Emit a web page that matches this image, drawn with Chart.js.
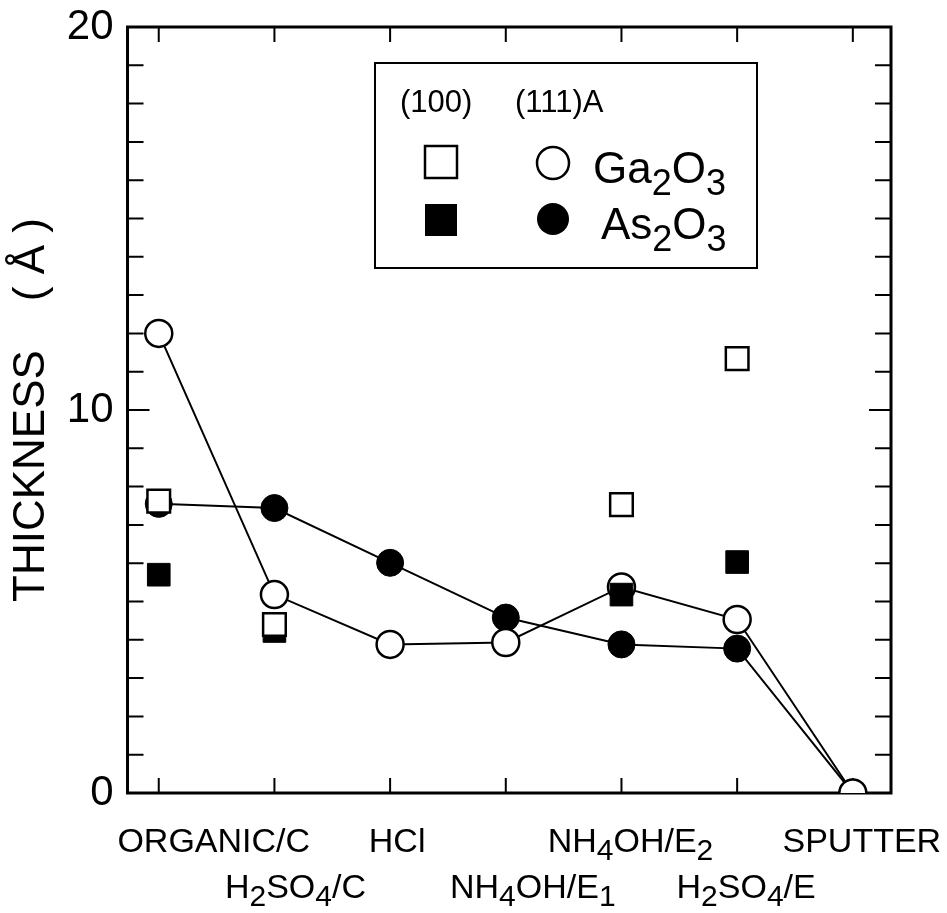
<!DOCTYPE html>
<html>
<head>
<meta charset="utf-8">
<title>Oxide thickness</title>
<script src="https://cdn.jsdelivr.net/npm/chart.js@4.4.0/dist/chart.umd.min.js"></script>
<style>
  html, body { margin: 0; padding: 0; background: #fff; }
  #wrap { width: 947px; height: 913px; }
</style>
</head>
<body>
<div id="wrap"><canvas id="myChart"></canvas></div>
<script>
// surface treatments, left to right ('_x' means x is a subscript)
var categorias = ['ORGANIC/C', 'H_2SO_4/C', 'HCl', 'NH_4OH/E_1', 'NH_4OH/E_2', 'H_2SO_4/E', 'SPUTTER'];
// (111)A, joined by lines
var ga111 = [12.0, 5.18, 3.88, 3.93, 5.38, 4.53, 0];
var as111 = [7.55, 7.44, 6.01, 4.58, 3.88, 3.77, 0];
// (100), single points (null = not measured)
var ga100 = [7.62, 4.4, null, null, 7.53, 11.34, null];
var as100 = [5.7, 4.23, null, null, 5.18, 6.03, null];
var yTicks = [0, 10, 20];

var FUENTE = "'Liberation Sans', Arial, Helvetica, sans-serif";
Chart.defaults.font.family = FUENTE;
Chart.defaults.color = '#000';

function puntos(valores) {
    var arr = [];
    for (var i = 0; i < valores.length; i++) {
        if (valores[i] !== null) arr.push({x: i, y: valores[i]});
    }
    return arr;
}

// split 'H_2SO_4/C' into normal / subscript pieces
function partes(txt) {
    var out = [];
    for (var i = 0; i < txt.length; i++) {
        if (txt[i] === '_') { out.push({t: txt[i + 1], sub: true}); i++; }
        else out.push({t: txt[i], sub: false});
    }
    return out;
}

function textoSub(ctx, txt, x, y, size, subSize, drop, centrado) {
    var p = partes(txt);
    var ancho = 0;
    p.forEach(function(s) {
        ctx.font = (s.sub ? subSize : size) + 'px ' + FUENTE;
        s.w = ctx.measureText(s.t).width;
        ancho += s.w;
    });
    var cx = centrado ? x - ancho / 2 : x;
    ctx.textAlign = 'left';
    ctx.textBaseline = 'alphabetic';
    p.forEach(function(s) {
        ctx.font = (s.sub ? subSize : size) + 'px ' + FUENTE;
        ctx.fillText(s.t, cx, s.sub ? y + drop : y);
        cx += s.w;
    });
}

// labels sit a bit right of their tick in the original
var desplazar = [55, 21, 7, 27, 9, 9, 9];

var marco = {
    id: 'marco',
    beforeDatasetsDraw: function(chart) {
        var ctx = chart.ctx, a = chart.chartArea;
        var xs = chart.scales.x, ys = chart.scales.y;
        ctx.save();
        ctx.strokeStyle = '#000';
        ctx.lineWidth = 3;
        ctx.strokeRect(a.left, a.top, a.right - a.left, a.bottom - a.top);
        ctx.lineWidth = 2;
        ctx.beginPath();
        for (var v = 1; v < 20; v++) {
            var py = ys.getPixelForValue(v);
            var len = (v % 10 === 0) ? 22 : 16;
            ctx.moveTo(a.left, py); ctx.lineTo(a.left + len, py);
            ctx.moveTo(a.right, py); ctx.lineTo(a.right - len, py);
        }
        for (var i = 0; i < categorias.length; i++) {
            var px = xs.getPixelForValue(i);
            ctx.moveTo(px, a.bottom); ctx.lineTo(px, a.bottom - 15);
            ctx.moveTo(px, a.top); ctx.lineTo(px, a.top + 15);
        }
        ctx.stroke();
        ctx.restore();
    },
    afterDraw: function(chart) {
        var ctx = chart.ctx, a = chart.chartArea;
        var xs = chart.scales.x;
        ctx.save();
        ctx.fillStyle = '#000';
        // staggered category labels
        for (var i = 0; i < categorias.length; i++) {
            var px = xs.getPixelForValue(i) + desplazar[i];
            var py = (i % 2 === 0) ? a.bottom + 59 : a.bottom + 105;
            textoSub(ctx, categorias[i], px, py, 34, 30, 8, true);
        }

        // legend box
        ctx.strokeStyle = '#000';
        ctx.lineWidth = 2;
        ctx.strokeRect(375, 63, 382, 205);
        ctx.font = '31px ' + FUENTE;
        ctx.textAlign = 'left';
        ctx.fillText('(100)', 400, 112);
        ctx.fillText('(111)A', 515, 112);

        ctx.lineWidth = 2.5;
        ctx.fillStyle = '#fff';
        ctx.fillRect(425, 146, 32, 32);
        ctx.strokeRect(425, 146, 32, 32);
        ctx.beginPath();
        ctx.arc(553, 163, 16, 0, Math.PI * 2);
        ctx.fill();
        ctx.stroke();

        ctx.fillStyle = '#000';
        ctx.fillRect(425, 204, 32, 32);
        ctx.beginPath();
        ctx.arc(553, 219, 16, 0, Math.PI * 2);
        ctx.fill();

        textoSub(ctx, 'Ga_2O_3', 593, 183, 44, 36, 12, false);
        textoSub(ctx, 'As_2O_3', 601, 239, 44, 36, 12, false);
        ctx.restore();
    }
};

var ctx = document.getElementById('myChart').getContext('2d');
var chart = new Chart(ctx, {
    type: 'line',
    data: {
        datasets: [{
            label: '(100) Ga2O3',
            data: puntos(ga100),
            showLine: false,
            pointStyle: 'rect',
            pointRadius: 16,
            pointBackgroundColor: '#fff',
            pointBorderColor: '#000',
            pointBorderWidth: 2.5,
            order: 0
        }, {
            label: '(100) As2O3',
            data: puntos(as100),
            showLine: false,
            pointStyle: 'rect',
            pointRadius: 16,
            pointBackgroundColor: '#000',
            pointBorderColor: '#000',
            pointBorderWidth: 1,
            order: 1
        }, {
            label: '(111)A Ga2O3',
            data: puntos(ga111),
            borderColor: '#000',
            borderWidth: 2,
            pointRadius: 13.5,
            pointBackgroundColor: '#fff',
            pointBorderColor: '#000',
            pointBorderWidth: 2.5,
            order: 2
        }, {
            label: '(111)A As2O3',
            data: puntos(as111),
            borderColor: '#000',
            borderWidth: 2,
            pointRadius: 13.5,
            pointBackgroundColor: '#000',
            pointBorderColor: '#000',
            pointBorderWidth: 1,
            order: 3
        }]
    },
    options: {
        responsive: true,
        maintainAspectRatio: false,
        animation: false,
        layout: {
            padding: {left: 5, right: 56, top: 25, bottom: 120}
        },
        plugins: {
            legend: {display: false},
            tooltip: {enabled: false}
        },
        scales: {
            x: {
                type: 'linear',
                display: false,
                min: -0.27,
                max: 6.33
            },
            y: {
                min: 0,
                max: 20,
                afterBuildTicks: function(scale) {
                    scale.ticks = yTicks.map(function(v) { return {value: v}; });
                },
                grid: {display: false},
                border: {display: false},
                ticks: {
                    autoSkip: false,
                    padding: 6,
                    font: {size: 42, lineHeight: 1}
                },
                title: {
                    display: true,
                    text: 'THICKNESS    ( \u00c5 )',
                    font: {size: 44},
                    padding: {top: 0, bottom: 3}
                }
            }
        }
    },
    plugins: [marco]
});
</script>
</body>
</html>
